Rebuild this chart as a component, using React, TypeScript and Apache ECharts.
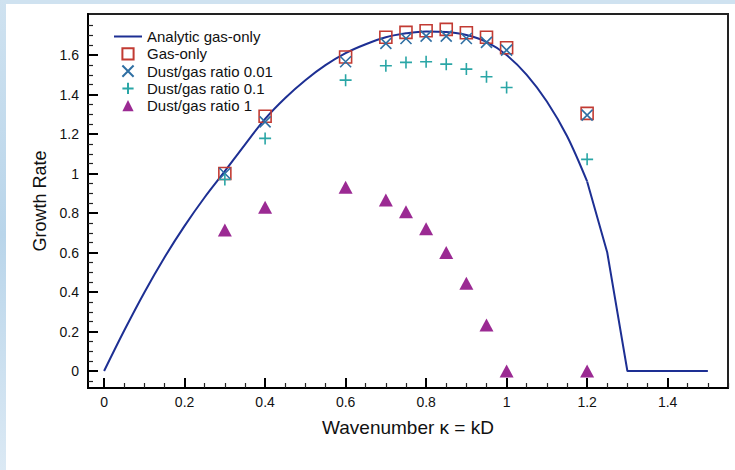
import React, { useEffect, useRef } from "react";
import * as echarts from "echarts";

// ---- data ----
// smooth part of the analytic curve
const analyticK = [0, 0.05, 0.1, 0.15, 0.2, 0.25, 0.3, 0.35, 0.4, 0.45, 0.5, 0.55, 0.6, 0.65, 0.7, 0.75, 0.8, 0.85, 0.9, 0.95, 1.0, 1.05, 1.1, 1.15, 1.2];
const analyticRate = [0, 0.205, 0.398, 0.575, 0.735, 0.88, 1.012, 1.147, 1.277, 1.383, 1.473, 1.549, 1.61, 1.655, 1.69, 1.71, 1.72, 1.717, 1.702, 1.667, 1.6, 1.5, 1.365, 1.19, 0.96];
// coarse tail of the analytic curve (drawn as straight segments)
const tailK = [1.2, 1.25, 1.3, 1.35, 1.4, 1.45, 1.5];
const tailRate = [0.96, 0.6, 0, 0, 0, 0, 0];

const sampleK = [0.3, 0.4, 0.6, 0.7, 0.75, 0.8, 0.85, 0.9, 0.95, 1.0, 1.2];
const gasOnly = [1.0, 1.29, 1.59, 1.69, 1.715, 1.723, 1.73, 1.713, 1.69, 1.637, 1.305];
const dust001 = [1.0, 1.262, 1.566, 1.659, 1.684, 1.696, 1.696, 1.684, 1.664, 1.625, 1.296];
const dust01 = [0.97, 1.178, 1.473, 1.546, 1.563, 1.566, 1.554, 1.529, 1.49, 1.436, 1.072];
const dust1 = [0.714, 0.829, 0.93, 0.866, 0.807, 0.72, 0.6, 0.444, 0.233, 0, 0];

const seriesNames = ["Analytic gas-only", "Gas-only", "Dust/gas ratio 0.01", "Dust/gas ratio 0.1", "Dust/gas ratio 1"];

// ---- ticks ----
const xMajor = [0, 0.2, 0.4, 0.6, 0.8, 1, 1.2, 1.4];
const xMinor = [0.05, 0.1, 0.15, 0.25, 0.3, 0.35, 0.45, 0.5, 0.55, 0.65, 0.7, 0.75, 0.85, 0.9, 0.95, 1.05, 1.1, 1.15, 1.25, 1.3, 1.35, 1.45, 1.5, 1.55];
const yMajor = [0, 0.2, 0.4, 0.6, 0.8, 1, 1.2, 1.4, 1.6];
const yMinor = [-0.05, 0.05, 0.1, 0.15, 0.25, 0.3, 0.35, 0.45, 0.5, 0.55, 0.65, 0.7, 0.75, 0.85, 0.9, 0.95, 1.05, 1.1, 1.15, 1.25, 1.3, 1.35, 1.45, 1.5, 1.55, 1.65, 1.7, 1.75];

const X_MIN = -0.04;
const X_MAX = 1.55;
const Y_MIN = -0.086;
const Y_MAX = 1.808;

const FONT = "'Liberation Sans', Arial, Helvetica, sans-serif";

const pair = (xs: number[], ys: number[]) => xs.map((x, i) => [x, ys[i]]);

export default function App() {
  const ref = useRef<HTMLDivElement>(null);
  useEffect(() => {
    if (!ref.current) return;
    const chart = echarts.init(ref.current, undefined, { renderer: "svg" });
    const markerLine = { opacity: 0, width: 1 };
    const curveColor = "#1d2f93";
    const option: any = {
      animation: false,
      backgroundColor: "#ffffff",
      textStyle: { fontFamily: FONT, color: "#111" },
      graphic: [
        { type: "rect", left: 0, top: 0, shape: { width: 735, height: 4 }, style: { fill: "#cfe2f0" }, silent: true },
        {
          type: "rect", left: 0, top: 0, shape: { width: 6, height: 470 }, silent: true,
          style: {
            fill: new echarts.graphic.LinearGradient(0, 0, 0, 1, [
              { offset: 0, color: "#cfe2f0" },
              { offset: 0.5, color: "#b9d5ea" },
              { offset: 1, color: "#dbe9f4" },
            ]),
          },
        },
      ],
      grid: {
        left: 88, right: 7, top: 14, bottom: 82,
        show: true, borderColor: "#222", borderWidth: 2, backgroundColor: "transparent",
      },
      legend: {
        orient: "vertical", left: 113, top: 29, padding: 0,
        itemWidth: 28, itemHeight: 14, itemGap: 2.3,
        textStyle: { fontSize: 15, color: "#111", fontFamily: FONT },
        data: [
          { name: seriesNames[0], itemStyle: { opacity: 0 } },
          seriesNames[1], seriesNames[2], seriesNames[3], seriesNames[4],
        ],
      },
      xAxis: [
        {
          type: "value", min: X_MIN, max: X_MAX, position: "bottom",
          axisLine: { show: true, onZero: false, lineStyle: { color: "#000", width: 2 } },
          axisTick: { show: true, inside: true, length: 10, customValues: xMajor, lineStyle: { color: "#000", width: 2 } },
          axisLabel: { customValues: xMajor, margin: 7, fontSize: 14, color: "#111", fontFamily: FONT },
          splitLine: { show: false },
          name: "Wavenumber κ = kD", nameLocation: "middle", nameGap: 30,
          nameTextStyle: { fontSize: 19, color: "#111", fontFamily: FONT },
        },
        {
          type: "value", min: X_MIN, max: X_MAX, position: "bottom",
          axisLine: { show: false, onZero: false },
          axisTick: { show: true, inside: true, length: 5, customValues: xMinor, lineStyle: { color: "#222", width: 1.2 } },
          axisLabel: { show: false },
          splitLine: { show: false },
        },
      ],
      yAxis: [
        {
          type: "value", min: Y_MIN, max: Y_MAX, position: "left",
          axisLine: { show: true, onZero: false, lineStyle: { color: "#000", width: 2 } },
          axisTick: { show: true, inside: true, length: 10, customValues: yMajor, lineStyle: { color: "#000", width: 2 } },
          axisLabel: { customValues: yMajor, margin: 9, fontSize: 14, color: "#111", fontFamily: FONT },
          splitLine: { show: false },
          name: "Growth Rate", nameLocation: "middle", nameGap: 35,
          nameTextStyle: { fontSize: 18, color: "#111", fontFamily: FONT },
        },
        {
          type: "value", min: Y_MIN, max: Y_MAX, position: "left",
          axisLine: { show: false, onZero: false },
          axisTick: { show: true, inside: true, length: 5, customValues: yMinor, lineStyle: { color: "#222", width: 1.2 } },
          axisLabel: { show: false },
          splitLine: { show: false },
        },
      ],
      series: [
        {
          name: seriesNames[0], type: "line", data: pair(analyticK, analyticRate),
          symbol: "none", smooth: 0.35,
          lineStyle: { color: curveColor, width: 2 }, itemStyle: { color: curveColor },
          z: 2,
        },
        {
          name: seriesNames[0], type: "line", data: pair(tailK, tailRate),
          symbol: "none", smooth: false,
          lineStyle: { color: curveColor, width: 2 }, itemStyle: { color: curveColor },
          z: 2,
        },
        {
          name: seriesNames[1], type: "line", data: pair(sampleK, gasOnly),
          symbol: "rect", symbolSize: 12, showSymbol: true, showAllSymbol: true,
          lineStyle: markerLine,
          itemStyle: { color: "rgba(0,0,0,0)", borderColor: "#c23b33", borderWidth: 1.6 },
          z: 3,
        },
        {
          name: seriesNames[2], type: "line", data: pair(sampleK, dust001),
          symbol: "path://M0,0L10,10M10,0L0,10", symbolSize: 11, showSymbol: true, showAllSymbol: true,
          lineStyle: markerLine,
          itemStyle: { color: "rgba(0,0,0,0)", borderColor: "#2f6fa3", borderWidth: 1.6 },
          z: 4,
        },
        {
          name: seriesNames[3], type: "line", data: pair(sampleK, dust01),
          symbol: "path://M5,0L5,10M0,5L10,5", symbolSize: 12, showSymbol: true, showAllSymbol: true,
          lineStyle: markerLine,
          itemStyle: { color: "rgba(0,0,0,0)", borderColor: "#2aa6a6", borderWidth: 1.6 },
          z: 4,
        },
        {
          name: seriesNames[4], type: "line", data: pair(sampleK, dust1),
          symbol: "triangle", symbolSize: [14, 13], showSymbol: true, showAllSymbol: true,
          lineStyle: markerLine,
          itemStyle: { color: "#9b2a93" },
          z: 4,
        },
      ],
    };
    chart.setOption(option);
    return () => chart.dispose();
  }, []);
  return (
    <div
      ref={ref}
      style={{ position: "fixed", left: 0, top: 0, width: 735, height: 470, background: "#fff" }}
    />
  );
}
